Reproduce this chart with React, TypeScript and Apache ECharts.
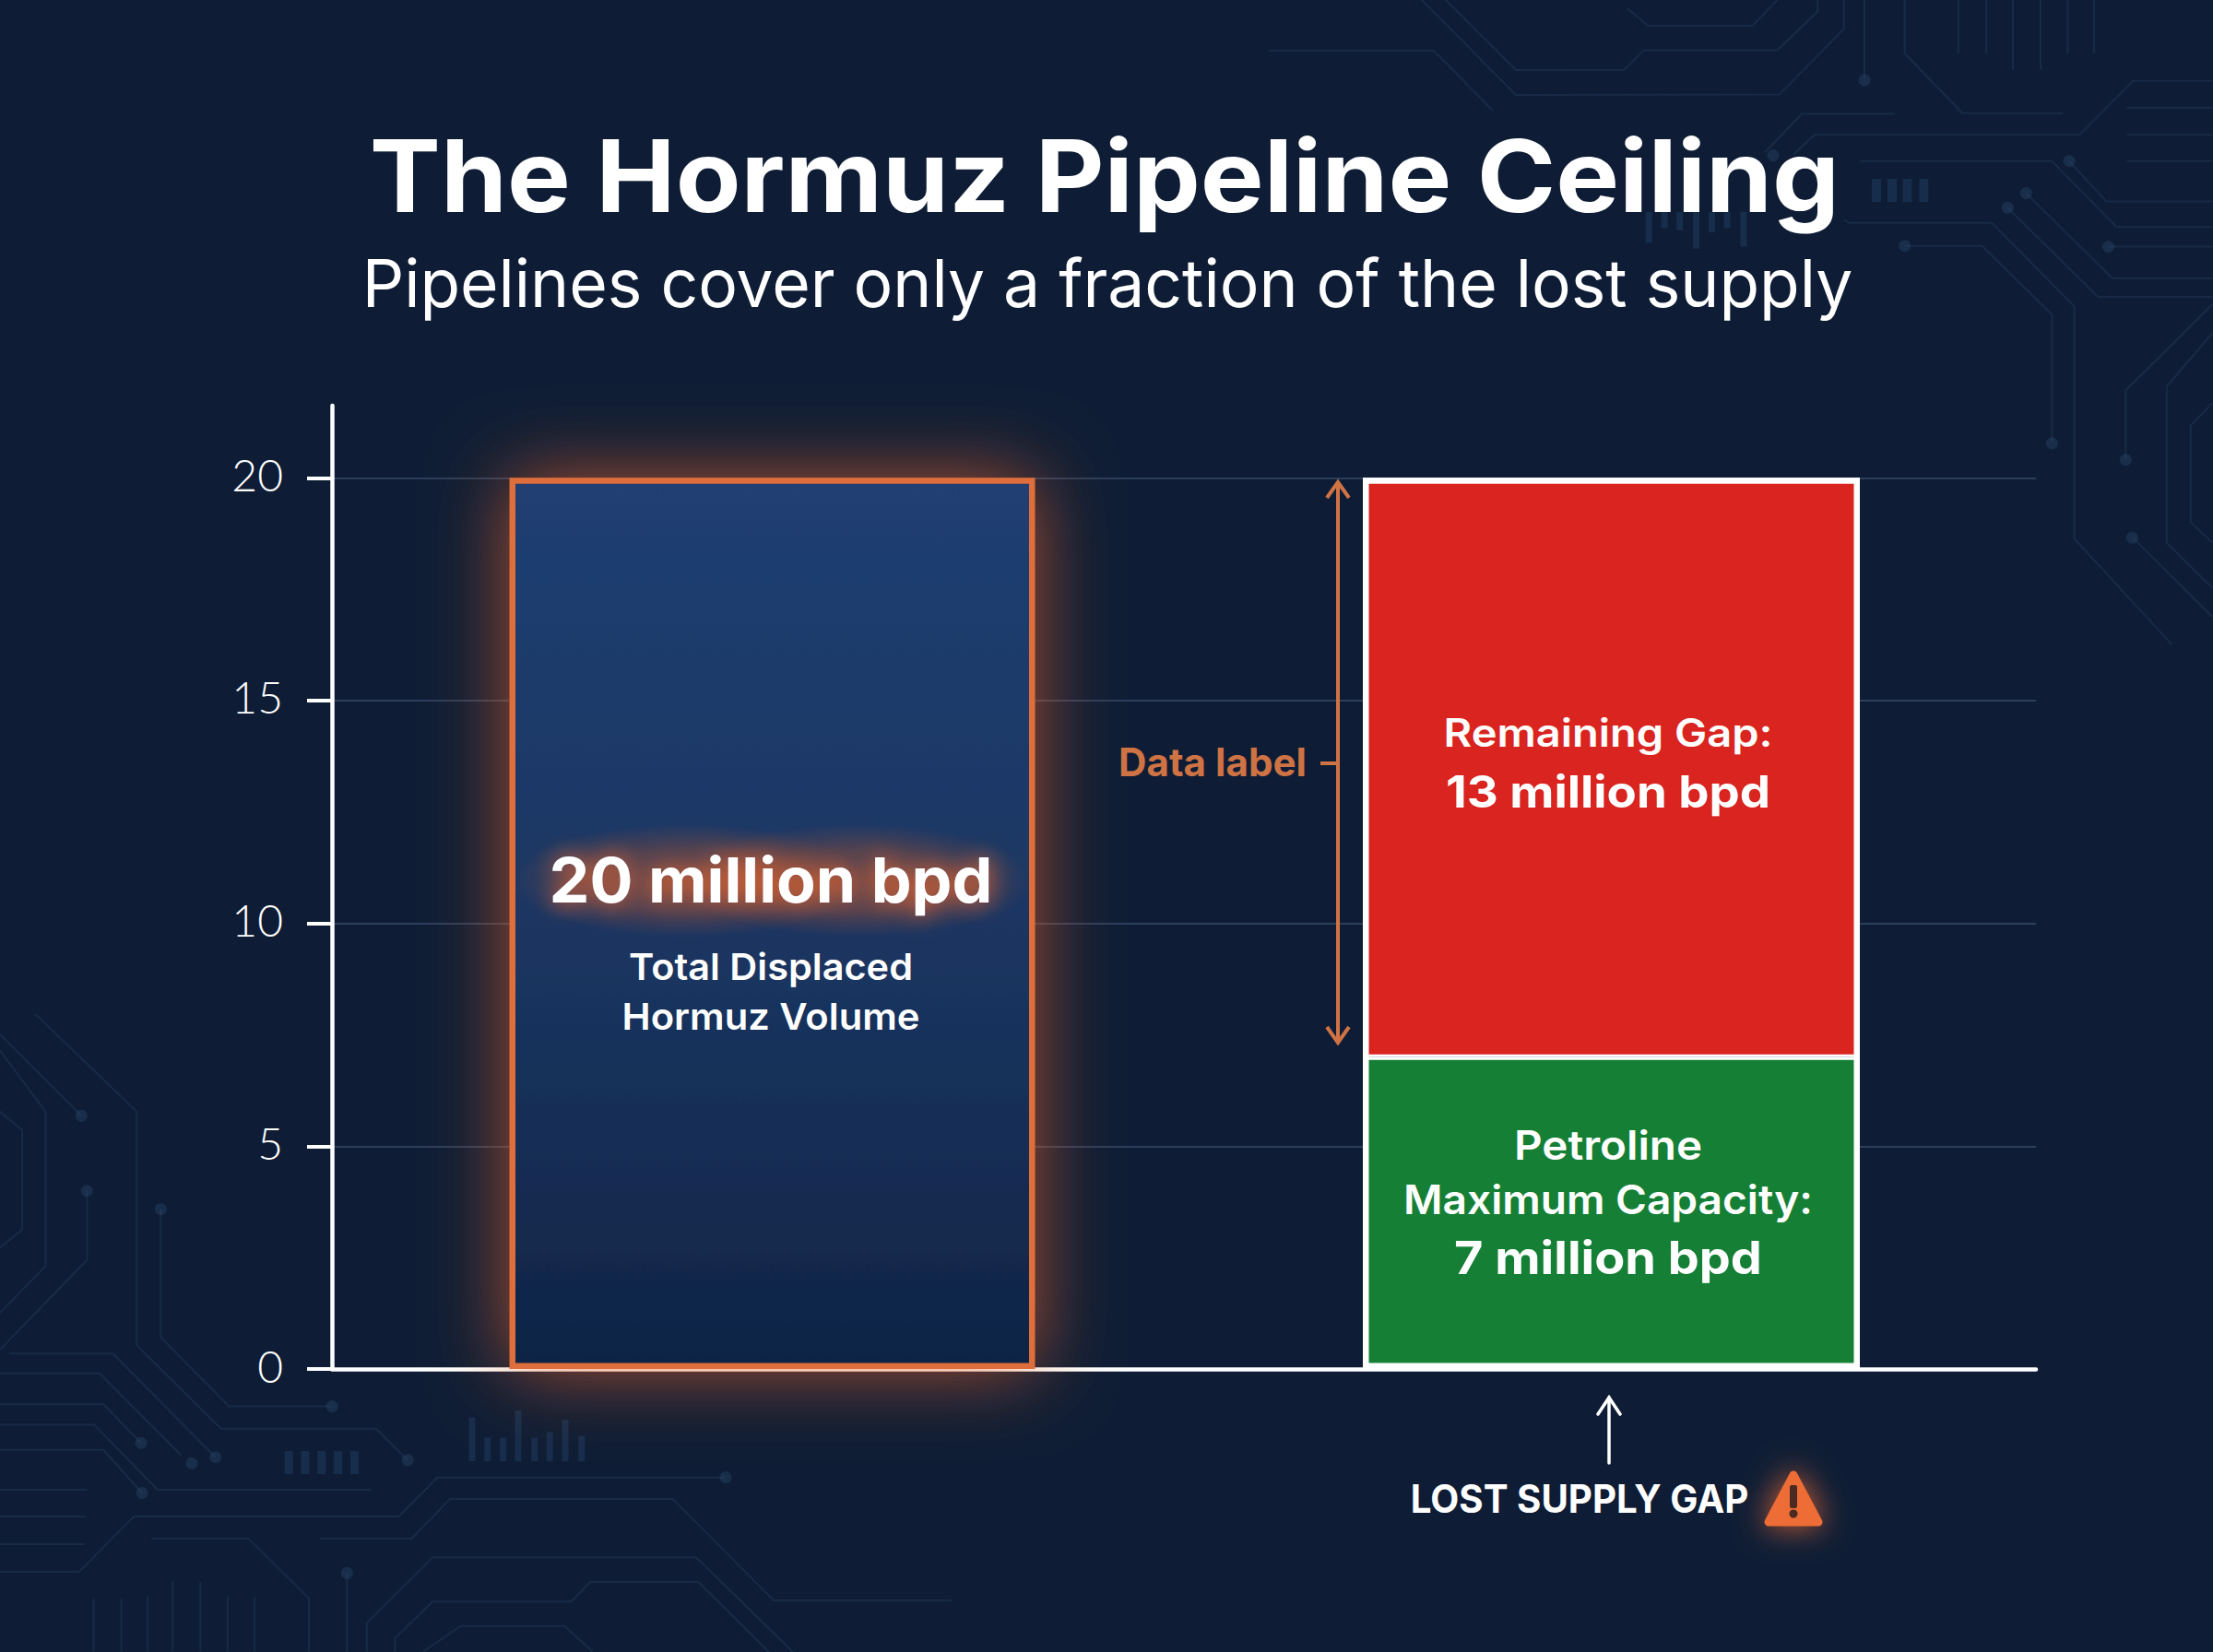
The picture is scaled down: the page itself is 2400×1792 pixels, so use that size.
import React, { useEffect, useRef } from "react";
import * as echarts from "echarts";

// ---- data ----
const yTicks = [0, 5, 10, 15, 20];
const totalCategory = ["Total Displaced Hormuz Volume"];
const splitCategory = ["Petroline vs Remaining Gap"];
const totalVolume = [20];
const petrolineCapacity = [7];
const remainingGap = [13];

// ---- texts ----
const TITLE = "The Hormuz Pipeline Ceiling";
const SUBTITLE = "Pipelines cover only a fraction of the lost supply";

const WIDTH = 2400;
const HEIGHT = 1792;
const AXIS_MAX = 21.62;
const GRID_TOP = 440;
const GRID_BOTTOM = 307;

const WHITE = "#FFFFFF";
const ORANGE = "#CF7344";
const TRACE = "rgba(84,122,165,0.15)";
const BLOCK = "rgba(60,105,160,0.22)";

function fitScale(text: string, font: string, target: number) {
  const ctx = document.createElement("canvas").getContext("2d");
  if (!ctx) return 1;
  ctx.font = font;
  const w = ctx.measureText(text).width;
  return w > 0 ? target / w : 1;
}

function label(
  text: string,
  cx: number,
  cy: number,
  size: number,
  weight: number,
  family: string,
  width: number,
  fill: string = WHITE,
  extra: any = {}
) {
  const font = `${weight} ${size}px "${family}"`;
  return {
    type: "text",
    x: cx,
    y: cy,
    scaleX: fitScale(text, font, width),
    z: 100,
    style: {
      text,
      x: 0,
      y: 0,
      align: "center",
      verticalAlign: "middle",
      fontFamily: family,
      fontWeight: weight,
      fontSize: size,
      fill,
      ...extra,
    },
  };
}

// coordinate helpers for the decorative background, in reference pixels
const L = (pts: number[][]) => pts.map(([x, y]) => [x * 0.51, 1100 + y * 0.441]);
const R = (pts: number[][]) => pts.map(([x, y]) => [1700 + x * 0.446, y * 0.446]);

const traces: number[][][] = [
  L([[75, 0], [291, 240], [291, 815], [470, 1020], [800, 1020], [867, 1097]]),
  L([[0, 90], [97, 240], [97, 620], [0, 735]]),
  L([[0, 50], [173, 250]]),
  L([[0, 240], [47, 285], [47, 530], [0, 575]]),
  L([[185, 435], [185, 605], [0, 825]]),
  L([[342, 480], [342, 795], [487, 965], [706, 965]]),
  L([[20, 835], [240, 835], [458, 1090]]),
  L([[0, 884], [212, 884], [385, 1085]]),
  L([[0, 960], [220, 960], [300, 1055]]),
  L([[0, 1010], [200, 1010], [335, 1170], [788, 1170]]),
  L([[0, 1072], [220, 1072], [302, 1178]]),
  L([[0, 1170], [185, 1170]]),
  L([[0, 1236], [183, 1236]]),
  L([[0, 1304], [180, 1304]]),
  L([[0, 1372], [168, 1372], [285, 1236], [848, 1236], [930, 1140], [1543, 1140]]),
  L([[322, 1290], [528, 1290], [657, 1437], [657, 1568]]),
  [...L([[680, 1290], [875, 1290], [957, 1193], [1430, 1193]]), [839, 1736], [1032, 1736]],
  [...L([[780, 1568], [780, 1498], [920, 1336], [1480, 1336]]), [860, 1792]],
  [...L([[840, 1568], [840, 1535], [920, 1445], [1215, 1445], [1255, 1397], [1485, 1397]]), [834, 1792]],
  L([[900, 1568], [980, 1505], [1200, 1505], [1260, 1568]]),
  L([[199, 1568], [199, 1438]]),
  L([[258, 1568], [258, 1438]]),
  L([[314, 1568], [314, 1432]]),
  L([[367, 1568], [367, 1395]]),
  L([[426, 1568], [426, 1397]]),
  L([[484, 1568], [484, 1432]]),
  L([[541, 1568], [541, 1435]]),
  L([[738, 1375], [738, 1568]]),
  [[1376, 55], [1555, 55], [1619, 120]],
  [[1542, 0], [1644, 103], ...R([[515, 230], [672, 70], [672, 0]])],
  [[1568, 0], [1644, 76], ...R([[138, 170], [185, 122], [510, 122], [608, 28], [608, 0]])],
  R([[145, 20], [195, 62], [450, 62], [510, 0]]),
  R([[722, 0], [722, 190]]),
  R([[820, 0], [820, 130], [960, 275], [1205, 275]]),
  R([[950, 0], [950, 130]]),
  R([[1018, 0], [1018, 130]]),
  R([[1083, 0], [1083, 170]]),
  R([[1150, 0], [1150, 170]]),
  R([[1216, 0], [1216, 130]]),
  R([[1280, 0], [1280, 130]]),
  R([[795, 277], [570, 277], [480, 370]]),
  R([[550, 375], [600, 328], [1245, 328], [1375, 197], [1568, 197]]),
  R([[1360, 262], [1568, 262]]),
  R([[1360, 328], [1568, 328]]),
  R([[1360, 392], [1568, 392]]),
  R([[710, 392], [1178, 392], [1335, 552], [1568, 552]]),
  R([[1220, 392], [1310, 490], [1568, 490]]),
  R([[672, 535], [685, 542], [1032, 542], [1232, 745], [1232, 1310], [1470, 1568]]),
  R([[820, 598], [1008, 598], [1178, 765], [1178, 1075]]),
  R([[1115, 470], [1325, 677], [1568, 677]]),
  R([[1070, 505], [1290, 722], [1568, 722]]),
  R([[1315, 600], [1568, 600]]),
  R([[1568, 740], [1357, 950], [1357, 1118]]),
  R([[1568, 810], [1457, 940], [1457, 1320], [1568, 1430]]),
  R([[1568, 980], [1515, 1035], [1515, 1270], [1568, 1320]]),
  R([[1375, 1308], [1568, 1500]]),
];

const dots: number[][] = [
  ...L([[173, 250], [185, 435], [342, 480], [458, 1090], [706, 965], [300, 1055], [302, 1178], [867, 1097], [1543, 1140], [738, 1375], [408, 1105]]),
  ...R([[722, 195], [500, 378], [820, 598], [1178, 1078], [1115, 470], [1315, 600], [1357, 1118], [1373, 1308], [1220, 392], [1070, 505]]),
];

// little bar decorations: [x, top, width, bottom]
const blocks: number[][] = [
  ...[605, 640, 675, 710, 745].map((x) => {
    const [[a, b]] = L([[x, 1075]]);
    return [a, b, 9, b + 25];
  }),
  ...[[997, 992], [1030, 1042], [1063, 1042], [1095, 975], [1130, 1042], [1162, 1028], [1195, 998], [1230, 1038]].map(([x, t]) => {
    const [[a, b]] = L([[x, t]]);
    return [a, b, 7, 1100 + 1100 * 0.441];
  }),
  ...[740, 778, 815, 855].map((x) => {
    const [[a, b]] = R([[x, 435]]);
    return [a, b, 10, b + 25];
  }),
  ...[[190, 590], [228, 555], [265, 560], [305, 605], [343, 565], [380, 555], [420, 600]].map(([x, t]) => {
    const [[a]] = R([[x, 0]]);
    return [a, 430 * 0.446 + 38, 7, t * 0.446];
  }),
];

const yAxisBase = { type: "value", min: 0, max: AXIS_MAX };

export default function App() {
  const ref = useRef<HTMLDivElement>(null);

  useEffect(() => {
    if (!ref.current) return;
    const chart = echarts.init(ref.current, undefined, { renderer: "svg" });

    const background: any[] = [
      ...traces.map((points) => ({
        type: "polyline",
        z: -10,
        shape: { points },
        style: { stroke: TRACE, lineWidth: 2, fill: "none" },
      })),
      ...dots.map(([cx, cy]) => ({
        type: "circle",
        z: -10,
        shape: { cx, cy, r: 6.5 },
        style: { fill: "rgba(50,85,125,0.3)" },
      })),
      ...blocks.map(([x, y, width, bottom]) => ({
        type: "rect",
        z: -10,
        shape: { x, y, width, height: bottom - y },
        style: { fill: BLOCK },
      })),
    ];

    const sans = "Inter";
    const head = "Inter";

    const glowPatch = (cx: number) => ({
      type: "ellipse",
      z: 99,
      shape: { cx, cy: 955, rx: 190, ry: 62 },
      style: {
        fill: new echarts.graphic.RadialGradient(0.5, 0.5, 0.5, [
          { offset: 0, color: "rgba(200,88,40,0.42)" },
          { offset: 0.55, color: "rgba(200,88,40,0.3)" },
          { offset: 1, color: "rgba(200,88,40,0)" },
        ]),
      },
    });

    const foreground: any[] = [
      label(TITLE, 1198, 191, 108, 700, head, 1595),
      label(SUBTITLE, 1201, 307, 72, 400, head, 1617),

      // soft capsule of glow behind the headline number
      glowPatch(745),
      glowPatch(930),
      label("20 million bpd", 836, 954, 68, 700, sans, 481, WHITE, {
        textShadowColor: "rgba(240,105,45,1)",
        textShadowBlur: 24,
      }),
      label("Total Displaced", 836, 1049, 40, 600, sans, 308),
      label("Hormuz Volume", 836, 1102, 40, 600, sans, 323),

      label("Remaining Gap:", 1744, 795, 42, 600, sans, 357),
      label("13 million bpd", 1744, 858, 48, 700, sans, 352),

      label("Petroline", 1744, 1242, 44, 600, sans, 204),
      label("Maximum Capacity:", 1744, 1301, 44, 600, sans, 444),
      label("7 million bpd", 1744, 1364, 50, 700, sans, 334),

      label("Data label", 1315, 827, 42, 700, sans, 204, ORANGE),
      label("LOST SUPPLY GAP", 1713, 1626, 42, 700, sans, 367),

      // Data label bracket arrow
      { type: "line", z: 100, shape: { x1: 1451, y1: 523, x2: 1451, y2: 1130 }, style: { stroke: ORANGE, lineWidth: 4 } },
      { type: "polyline", z: 100, shape: { points: [[1439, 540], [1451, 523], [1463, 540]] }, style: { stroke: ORANGE, lineWidth: 4, fill: "none" } },
      { type: "polyline", z: 100, shape: { points: [[1439, 1114], [1451, 1131], [1463, 1114]] }, style: { stroke: ORANGE, lineWidth: 4, fill: "none" } },
      { type: "line", z: 100, shape: { x1: 1432, y1: 828, x2: 1451, y2: 828 }, style: { stroke: ORANGE, lineWidth: 4 } },

      // Lost-supply arrow
      { type: "line", z: 100, shape: { x1: 1745, y1: 1516, x2: 1745, y2: 1587 }, style: { stroke: WHITE, lineWidth: 3.5, lineCap: "round" } },
      { type: "polyline", z: 100, shape: { points: [[1733, 1534], [1745, 1516], [1757, 1534]] }, style: { stroke: WHITE, lineWidth: 3.5, fill: "none", lineCap: "round" } },

      // Warning triangle
      {
        type: "polygon",
        z: 100,
        shape: { points: [[1945, 1600], [1918, 1651], [1972, 1651]] },
        style: {
          fill: "#EE6C34",
          stroke: "#EE6C34",
          lineWidth: 9,
          lineJoin: "round",
          shadowBlur: 34,
          shadowColor: "rgba(238,108,52,0.9)",
        },
      },
      { type: "rect", z: 101, shape: { x: 1941, y: 1611, width: 8, height: 25, r: 2 }, style: { fill: "#4A2A22" } },
      { type: "circle", z: 101, shape: { cx: 1945, cy: 1642, r: 4.5 }, style: { fill: "#4A2A22" } },
    ];

    chart.setOption({
      animation: false,
      backgroundColor: "#0E1D35",
      grid: [
        { left: 360, right: WIDTH - 2208, top: GRID_TOP, bottom: GRID_BOTTOM },
        // the two bars have their own widths and centres, so each gets its own band
        { left: 360, width: 955, top: GRID_TOP, bottom: GRID_BOTTOM },
        { left: 1287, width: 921, top: GRID_TOP, bottom: GRID_BOTTOM },
        { left: 1287, width: 921, top: GRID_TOP, bottom: GRID_BOTTOM },
      ],
      xAxis: [
        {
          gridIndex: 0,
          type: "category",
          data: [""],
          axisLine: { show: true, onZero: false, lineStyle: { color: WHITE, width: 4.5, cap: "round" } },
          axisTick: { show: false },
          axisLabel: { show: false },
        },
        { gridIndex: 1, type: "category", data: totalCategory, show: false },
        { gridIndex: 2, type: "category", data: splitCategory, show: false },
        { gridIndex: 3, type: "category", data: splitCategory, show: false },
      ],
      yAxis: [
        {
          ...yAxisBase,
          gridIndex: 0,
          axisLine: { show: true, lineStyle: { color: WHITE, width: 4.5, cap: "round" } },
          axisTick: { show: true, length: 27, customValues: yTicks, lineStyle: { color: WHITE, width: 4 } },
          axisLabel: {
            show: true,
            customValues: yTicks,
            margin: 53,
            color: WHITE,
            fontFamily: "Lato",
            fontWeight: 300,
            fontSize: 48,
            formatter: "{v|{value}}",
            rich: { v: { fontFamily: "Lato", fontWeight: 300, fontSize: 48, color: WHITE, padding: [0, 0, 8, 0] } },
          },
          splitLine: { show: true, lineStyle: { color: "rgba(125,150,185,0.28)", width: 2 } },
        },
        { ...yAxisBase, gridIndex: 1, show: false, splitLine: { show: false } },
        { ...yAxisBase, gridIndex: 2, show: false, splitLine: { show: false } },
        { ...yAxisBase, gridIndex: 3, show: false, splitLine: { show: false } },
      ],
      graphic: { elements: [...background, ...foreground] },
      series: [
        {
          type: "bar",
          name: "Total Displaced Hormuz Volume",
          xAxisIndex: 1,
          yAxisIndex: 1,
          barWidth: 570,
          data: totalVolume,
          itemStyle: {
            color: new echarts.graphic.LinearGradient(0, 0, 0, 1, [
              { offset: 0, color: "#203F72" },
              { offset: 0.55, color: "#1A3560" },
              { offset: 1, color: "#0F2445" },
            ]),
            borderColor: "#DE6E3A",
            borderWidth: 6.5,
            shadowBlur: 84,
            shadowColor: "rgba(232,100,40,0.72)",
          },
        },
        {
          type: "bar",
          name: "Petroline Maximum Capacity",
          xAxisIndex: 2,
          yAxisIndex: 2,
          stack: "supply",
          barWidth: 539,
          data: petrolineCapacity,
          itemStyle: { color: "#158035", borderColor: WHITE, borderWidth: 3 },
        },
        {
          type: "bar",
          name: "Remaining Gap",
          xAxisIndex: 2,
          yAxisIndex: 2,
          stack: "supply",
          barWidth: 539,
          data: remainingGap,
          itemStyle: { color: "#D92420", borderColor: WHITE, borderWidth: 3 },
        },
        {
          // white frame round the whole stack, so the outer edge is twice as thick as the divider
          type: "bar",
          name: "Stack outline",
          xAxisIndex: 3,
          yAxisIndex: 3,
          barWidth: 539,
          data: petrolineCapacity.map((v, i) => v + remainingGap[i]),
          itemStyle: { color: "rgba(0,0,0,0)", borderColor: WHITE, borderWidth: 6.5 },
          silent: true,
        },
      ],
    });

    return () => chart.dispose();
  }, []);

  return (
    <div
      ref={ref}
      style={{ position: "absolute", left: 0, top: 0, width: WIDTH, height: HEIGHT }}
    />
  );
}
